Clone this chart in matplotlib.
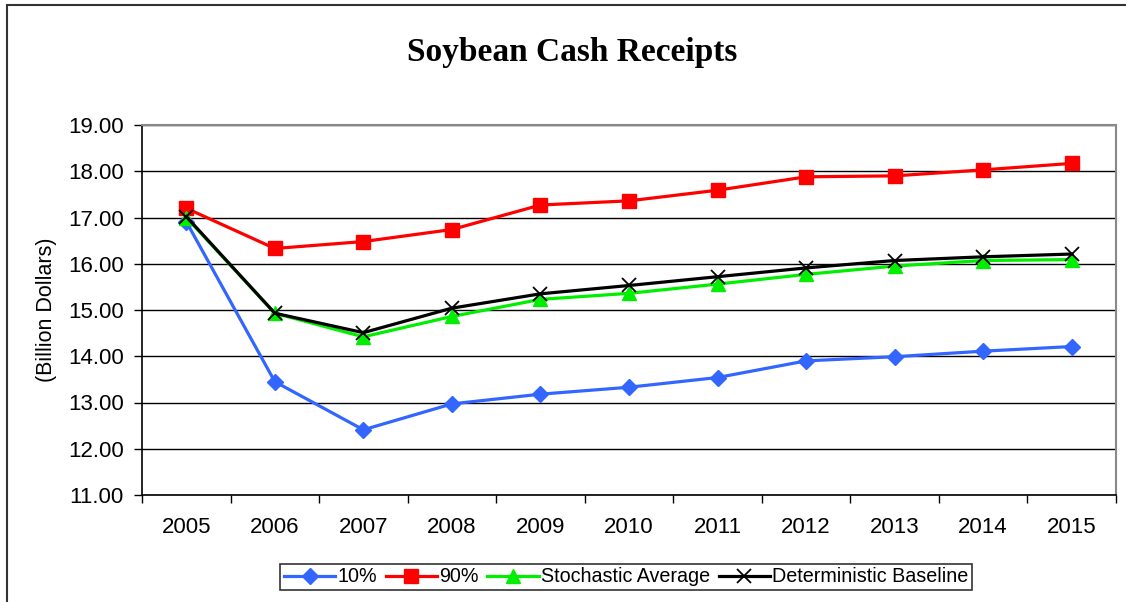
import matplotlib.pyplot as plt
from matplotlib.patches import Rectangle

# soybean cash receipts, billion dollars
years = ['2005', '2006', '2007', '2008', '2009', '2010',
         '2011', '2012', '2013', '2014', '2015']
p10 = [16.91, 13.45, 12.41, 12.97, 13.18, 13.33, 13.54, 13.90, 13.99, 14.11, 14.21]
p90 = [17.20, 16.33, 16.48, 16.74, 17.27, 17.36, 17.59, 17.88, 17.90, 18.03, 18.17]
stoch_avg = [17.00, 14.93, 14.42, 14.86, 15.23, 15.36, 15.56, 15.77, 15.95, 16.07, 16.09]
det_base = [17.02, 14.93, 14.51, 15.04, 15.35, 15.53, 15.72, 15.91, 16.07, 16.15, 16.21]

plt.rcParams['font.family'] = ['Liberation Sans', 'DejaVu Sans']

fig = plt.figure(figsize=(11.26, 6.02), dpi=100)
ax = fig.add_axes([142 / 1126, 1 - 495 / 602, (1116 - 142) / 1126, (495 - 125) / 602])

x = list(range(len(years)))
lw = 2.3
ax.plot(x, p10, color='#3366FF', lw=lw, marker='D', ms=8.5, label='10%', zorder=3)
ax.plot(x, p90, color='#FF0000', lw=lw, marker='s', ms=9.5, label='90%', zorder=3)
ax.plot(x, stoch_avg, color='#00EE00', lw=lw, marker='^', ms=10, label='Stochastic Average', zorder=3)
ax.plot(x, det_base, color='black', lw=lw, marker='x', ms=10, mew=1.3,
        label='Deterministic Baseline', zorder=3)

ax.set_xlim(-0.5, len(years) - 0.5)
ax.set_ylim(11, 19)
ax.set_yticks([11 + i for i in range(9)])
ax.set_yticklabels(['%.2f' % (11 + i) for i in range(9)])
ax.set_xticks(x)
ax.set_xticklabels(years)
ax.set_xticks([i - 0.5 for i in range(len(years) + 1)], minor=True)
ax.tick_params(axis='x', which='major', length=0, pad=16, labelsize=16)
ax.tick_params(axis='x', which='minor', length=6, width=1, direction='out')
ax.tick_params(axis='y', length=6, width=1, pad=7, labelsize=16)
ax.grid(axis='y', color='black', lw=1)
ax.set_axisbelow(True)

for s in ['top', 'right']:
    ax.spines[s].set_color('#888888')
    ax.spines[s].set_linewidth(1.5)
for s in ['left', 'bottom']:
    ax.spines[s].set_color('black')
    ax.spines[s].set_linewidth(1.2)

ax.set_ylabel('(Billion Dollars)', fontsize=15.5, labelpad=8)

fig.text(572 / 1126, 1 - 53 / 602, 'Soybean Cash Receipts', ha='center', va='center',
         fontsize=24, fontweight='bold', family='Liberation Serif')

leg = fig.legend(loc='center', bbox_to_anchor=(626 / 1126, 1 - 577 / 602), ncol=4,
                 fontsize=14.2, frameon=True, fancybox=False, edgecolor='black',
                 handlelength=2.6, handletextpad=0.1, columnspacing=0.45,
                 borderpad=0.2, borderaxespad=0)
leg.get_frame().set_linewidth(1.2)

# outer chart border
fig.patches.append(Rectangle((7 / 1126, -0.05), 1.1, 1 - 5 / 602 + 0.05,
                             transform=fig.transFigure, fill=False,
                             edgecolor='#333333', lw=1.5))

fig.savefig('out.png', dpi=100)
